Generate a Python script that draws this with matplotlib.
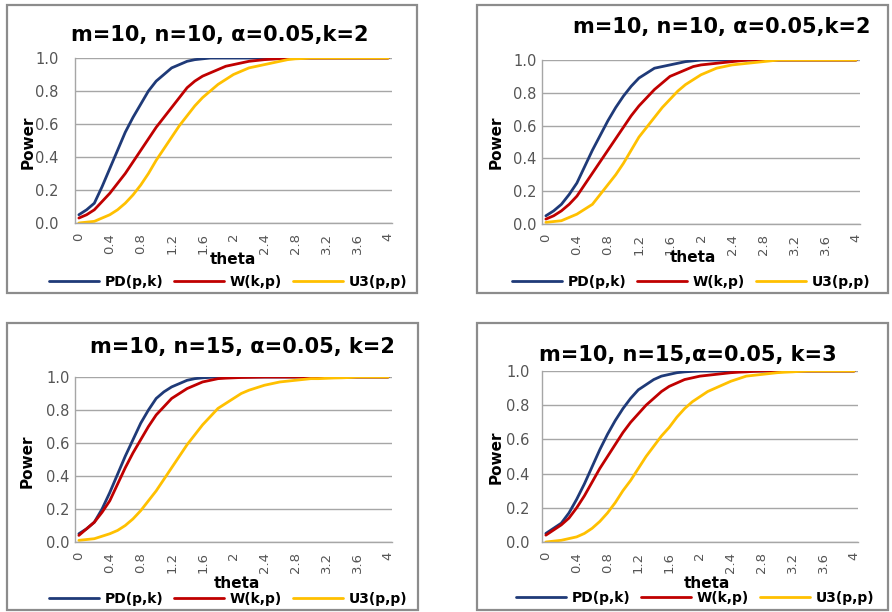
import matplotlib
matplotlib.use("Agg")
import matplotlib.pyplot as plt
from matplotlib.patches import Rectangle

W_PX, H_PX = 892, 612

# theta values 0..4 step 0.1 (41 categories)
theta = [0.0, 0.1, 0.2, 0.3, 0.4, 0.5, 0.6, 0.7, 0.8, 0.9,
         1.0, 1.1, 1.2, 1.3, 1.4, 1.5, 1.6, 1.7, 1.8, 1.9,
         2.0, 2.1, 2.2, 2.3, 2.4, 2.5, 2.6, 2.7, 2.8, 2.9,
         3.0, 3.1, 3.2, 3.3, 3.4, 3.5, 3.6, 3.7, 3.8, 3.9, 4.0]
tick_vals = [0, 0.4, 0.8, 1.2, 1.6, 2, 2.4, 2.8, 3.2, 3.6, 4]
tick_labels = ["0", "0.4", "0.8", "1.2", "1.6", "2", "2.4", "2.8", "3.2", "3.6", "4"]
series_names = ["PD(p,k)", "W(k,p)", "U3(p,p)"]
titles = ["m=10, n=10, \u03b1=0.05,k=2", "m=10, n=10, \u03b1=0.05,k=2",
          "m=10, n=15, \u03b1=0.05, k=2", "m=10, n=15,\u03b1=0.05, k=3"]

# panel 1: m=10, n=10, k=2
pd_1 = [0.05, 0.08, 0.12, 0.22, 0.33, 0.44, 0.55, 0.64, 0.72, 0.80,
        0.86, 0.90, 0.94, 0.96, 0.98, 0.99, 0.995, 1.0, 1.0, 1.0,
        1.0, 1.0, 1.0, 1.0, 1.0, 1.0, 1.0, 1.0, 1.0, 1.0,
        1.0, 1.0, 1.0, 1.0, 1.0, 1.0, 1.0, 1.0, 1.0, 1.0, 1.0]
w_1 = [0.03, 0.05, 0.08, 0.13, 0.18, 0.24, 0.30, 0.37, 0.44, 0.51,
       0.58, 0.64, 0.70, 0.76, 0.82, 0.86, 0.89, 0.91, 0.93, 0.95,
       0.96, 0.97, 0.98, 0.985, 0.99, 0.993, 0.996, 0.998, 1.0, 1.0,
       1.0, 1.0, 1.0, 1.0, 1.0, 1.0, 1.0, 1.0, 1.0, 1.0, 1.0]
u3_1 = [0.0, 0.005, 0.01, 0.03, 0.05, 0.08, 0.12, 0.17, 0.23, 0.30,
        0.38, 0.45, 0.52, 0.59, 0.65, 0.71, 0.76, 0.80, 0.84, 0.87,
        0.90, 0.92, 0.94, 0.95, 0.96, 0.97, 0.98, 0.99, 0.995, 0.997,
        1.0, 1.0, 1.0, 1.0, 1.0, 1.0, 1.0, 1.0, 1.0, 1.0, 1.0]

# panel 2: m=10, n=10, k=2
pd_2 = [0.05, 0.08, 0.12, 0.18, 0.25, 0.35, 0.45, 0.54, 0.63, 0.71,
        0.78, 0.84, 0.89, 0.92, 0.95, 0.96, 0.97, 0.98, 0.99, 0.995,
        1.0, 1.0, 1.0, 1.0, 1.0, 1.0, 1.0, 1.0, 1.0, 1.0,
        1.0, 1.0, 1.0, 1.0, 1.0, 1.0, 1.0, 1.0, 1.0, 1.0, 1.0]
w_2 = [0.03, 0.05, 0.08, 0.12, 0.17, 0.24, 0.31, 0.38, 0.45, 0.52,
       0.59, 0.66, 0.72, 0.77, 0.82, 0.86, 0.90, 0.92, 0.94, 0.96,
       0.97, 0.975, 0.98, 0.985, 0.99, 0.995, 1.0, 1.0, 1.0, 1.0,
       1.0, 1.0, 1.0, 1.0, 1.0, 1.0, 1.0, 1.0, 1.0, 1.0, 1.0]
u3_2 = [0.01, 0.015, 0.02, 0.04, 0.06, 0.09, 0.12, 0.18, 0.24, 0.30,
        0.37, 0.45, 0.53, 0.59, 0.65, 0.71, 0.76, 0.81, 0.85, 0.88,
        0.91, 0.93, 0.95, 0.96, 0.97, 0.975, 0.98, 0.985, 0.99, 0.995,
        1.0, 1.0, 1.0, 1.0, 1.0, 1.0, 1.0, 1.0, 1.0, 1.0, 1.0]

# panel 3: m=10, n=15, k=2
pd_3 = [0.05, 0.08, 0.12, 0.20, 0.30, 0.41, 0.52, 0.62, 0.72, 0.80,
        0.87, 0.91, 0.94, 0.96, 0.98, 0.99, 0.995, 0.998, 1.0, 1.0,
        1.0, 1.0, 1.0, 1.0, 1.0, 1.0, 1.0, 1.0, 1.0, 1.0,
        1.0, 1.0, 1.0, 1.0, 1.0, 1.0, 1.0, 1.0, 1.0, 1.0, 1.0]
w_3 = [0.04, 0.08, 0.12, 0.18, 0.25, 0.35, 0.45, 0.54, 0.62, 0.70,
       0.77, 0.82, 0.87, 0.90, 0.93, 0.95, 0.97, 0.98, 0.99, 0.993,
       0.995, 0.997, 0.998, 0.999, 1.0, 1.0, 1.0, 1.0, 1.0, 1.0,
       1.0, 1.0, 1.0, 1.0, 1.0, 1.0, 1.0, 1.0, 1.0, 1.0, 1.0]
u3_3 = [0.01, 0.015, 0.02, 0.035, 0.05, 0.07, 0.10, 0.14, 0.19, 0.25,
        0.31, 0.38, 0.45, 0.52, 0.59, 0.65, 0.71, 0.76, 0.81, 0.84,
        0.87, 0.90, 0.92, 0.935, 0.95, 0.96, 0.97, 0.975, 0.98, 0.985,
        0.99, 0.99, 0.992, 0.994, 0.995, 0.997, 1.0, 1.0, 1.0, 1.0, 1.0]

# panel 4: m=10, n=15, k=3
pd_4 = [0.05, 0.08, 0.11, 0.17, 0.25, 0.34, 0.44, 0.54, 0.63, 0.71,
        0.78, 0.84, 0.89, 0.92, 0.95, 0.97, 0.98, 0.99, 0.995, 0.998,
        1.0, 1.0, 1.0, 1.0, 1.0, 1.0, 1.0, 1.0, 1.0, 1.0,
        1.0, 1.0, 1.0, 1.0, 1.0, 1.0, 1.0, 1.0, 1.0, 1.0, 1.0]
w_4 = [0.04, 0.07, 0.10, 0.14, 0.20, 0.27, 0.35, 0.43, 0.50, 0.57,
       0.64, 0.70, 0.75, 0.80, 0.84, 0.88, 0.91, 0.93, 0.95, 0.96,
       0.97, 0.975, 0.98, 0.985, 0.99, 0.993, 0.995, 0.998, 1.0, 1.0,
       1.0, 1.0, 1.0, 1.0, 1.0, 1.0, 1.0, 1.0, 1.0, 1.0, 1.0]
u3_4 = [0.0, 0.005, 0.01, 0.02, 0.03, 0.05, 0.08, 0.12, 0.17, 0.23,
        0.30, 0.36, 0.43, 0.50, 0.56, 0.62, 0.67, 0.73, 0.78, 0.82,
        0.85, 0.88, 0.90, 0.92, 0.94, 0.955, 0.97, 0.975, 0.98, 0.985,
        0.99, 0.993, 0.995, 0.998, 1.0, 1.0, 1.0, 1.0, 1.0, 1.0, 1.0]

panel_data = [(pd_1, w_1, u3_1), (pd_2, w_2, u3_2), (pd_3, w_3, u3_3), (pd_4, w_4, u3_4)]
colors = ["#1f3a78", "#c00000", "#ffc000"]

# layout in pixels: border box, plot area, title pos, ylabel pos, xlabel pos, legend centre, ytick pad
layout = [
    dict(box=(7, 5, 417, 293), area=(75, 58, 392, 223), title=(220, 35), ylab=(28, 142),
         xlab=(233, 259), leg=(228, 282), ypad=12),
    dict(box=(477, 5, 888, 293), area=(542, 60, 860, 224), title=(722, 27), ylab=(496, 142),
         xlab=(693, 257), leg=(691, 282), ypad=4),
    dict(box=(7, 323, 418, 610), area=(75, 377, 392, 542), title=(242, 347), ylab=(27, 461),
         xlab=(237, 583), leg=(228, 599), ypad=4),
    dict(box=(477, 323, 888, 610), area=(542, 371, 858, 542), title=(688, 355), ylab=(496, 457),
         xlab=(707, 583), leg=(695, 598), ypad=9),
]


def fx(x):
    return x / W_PX


def fy(y):
    return 1 - y / H_PX


fig = plt.figure(figsize=(W_PX / 100, H_PX / 100), dpi=100)
fig.patch.set_facecolor("white")

for (data, lay, title) in zip(panel_data, layout, titles):
    x0, y0, x1, y1 = lay["box"]
    fig.patches.append(Rectangle((fx(x0), fy(y1)), fx(x1 - x0), (y1 - y0) / H_PX,
                                 transform=fig.transFigure, fill=False,
                                 edgecolor="#8c8c8c", linewidth=1.6))

    ax0, ay0, ax1, ay1 = lay["area"]
    ax = fig.add_axes([fx(ax0), fy(ay1), fx(ax1 - ax0), (ay1 - ay0) / H_PX])
    for vals, name, col in zip(data, series_names, colors):
        ax.plot(theta, vals, color=col, linewidth=2.0, label=name, solid_capstyle="round")

    ax.set_xlim(-0.05, 4.05)
    ax.set_ylim(0, 1.0)
    ax.set_yticks([0, 0.2, 0.4, 0.6, 0.8, 1.0])
    ax.set_yticklabels(["0.0", "0.2", "0.4", "0.6", "0.8", "1.0"])
    ax.set_xticks(tick_vals)
    ax.set_xticklabels(tick_labels, rotation=90)
    ax.tick_params(axis="y", length=0, pad=lay["ypad"], labelsize=10.5, labelcolor="#555555")
    ax.tick_params(axis="x", length=0, pad=7, labelsize=9.5, labelcolor="#555555")
    ax.grid(axis="y", color="#a6a6a6", linewidth=1.0)
    ax.set_axisbelow(True)
    for side in ["top", "right"]:
        ax.spines[side].set_visible(False)
    for side in ["left", "bottom"]:
        ax.spines[side].set_color("#a6a6a6")
        ax.spines[side].set_linewidth(1.0)

    fig.text(fx(lay["title"][0]), fy(lay["title"][1]), title, ha="center", va="center",
             fontsize=15, fontweight="bold")
    fig.text(fx(lay["ylab"][0]), fy(lay["ylab"][1]), "Power", ha="center", va="center",
             rotation=90, fontsize=11, fontweight="bold")
    fig.text(fx(lay["xlab"][0]), fy(lay["xlab"][1]), "theta", ha="center", va="center",
             fontsize=11, fontweight="bold")
    leg = ax.legend(loc="center", bbox_to_anchor=(fx(lay["leg"][0]), fy(lay["leg"][1])),
                    bbox_transform=fig.transFigure, ncol=3, frameon=False,
                    prop={"weight": "bold", "size": 10}, handlelength=3.6,
                    handletextpad=0.4, columnspacing=0.8, borderpad=0)

fig.savefig("out.png", dpi=100)
